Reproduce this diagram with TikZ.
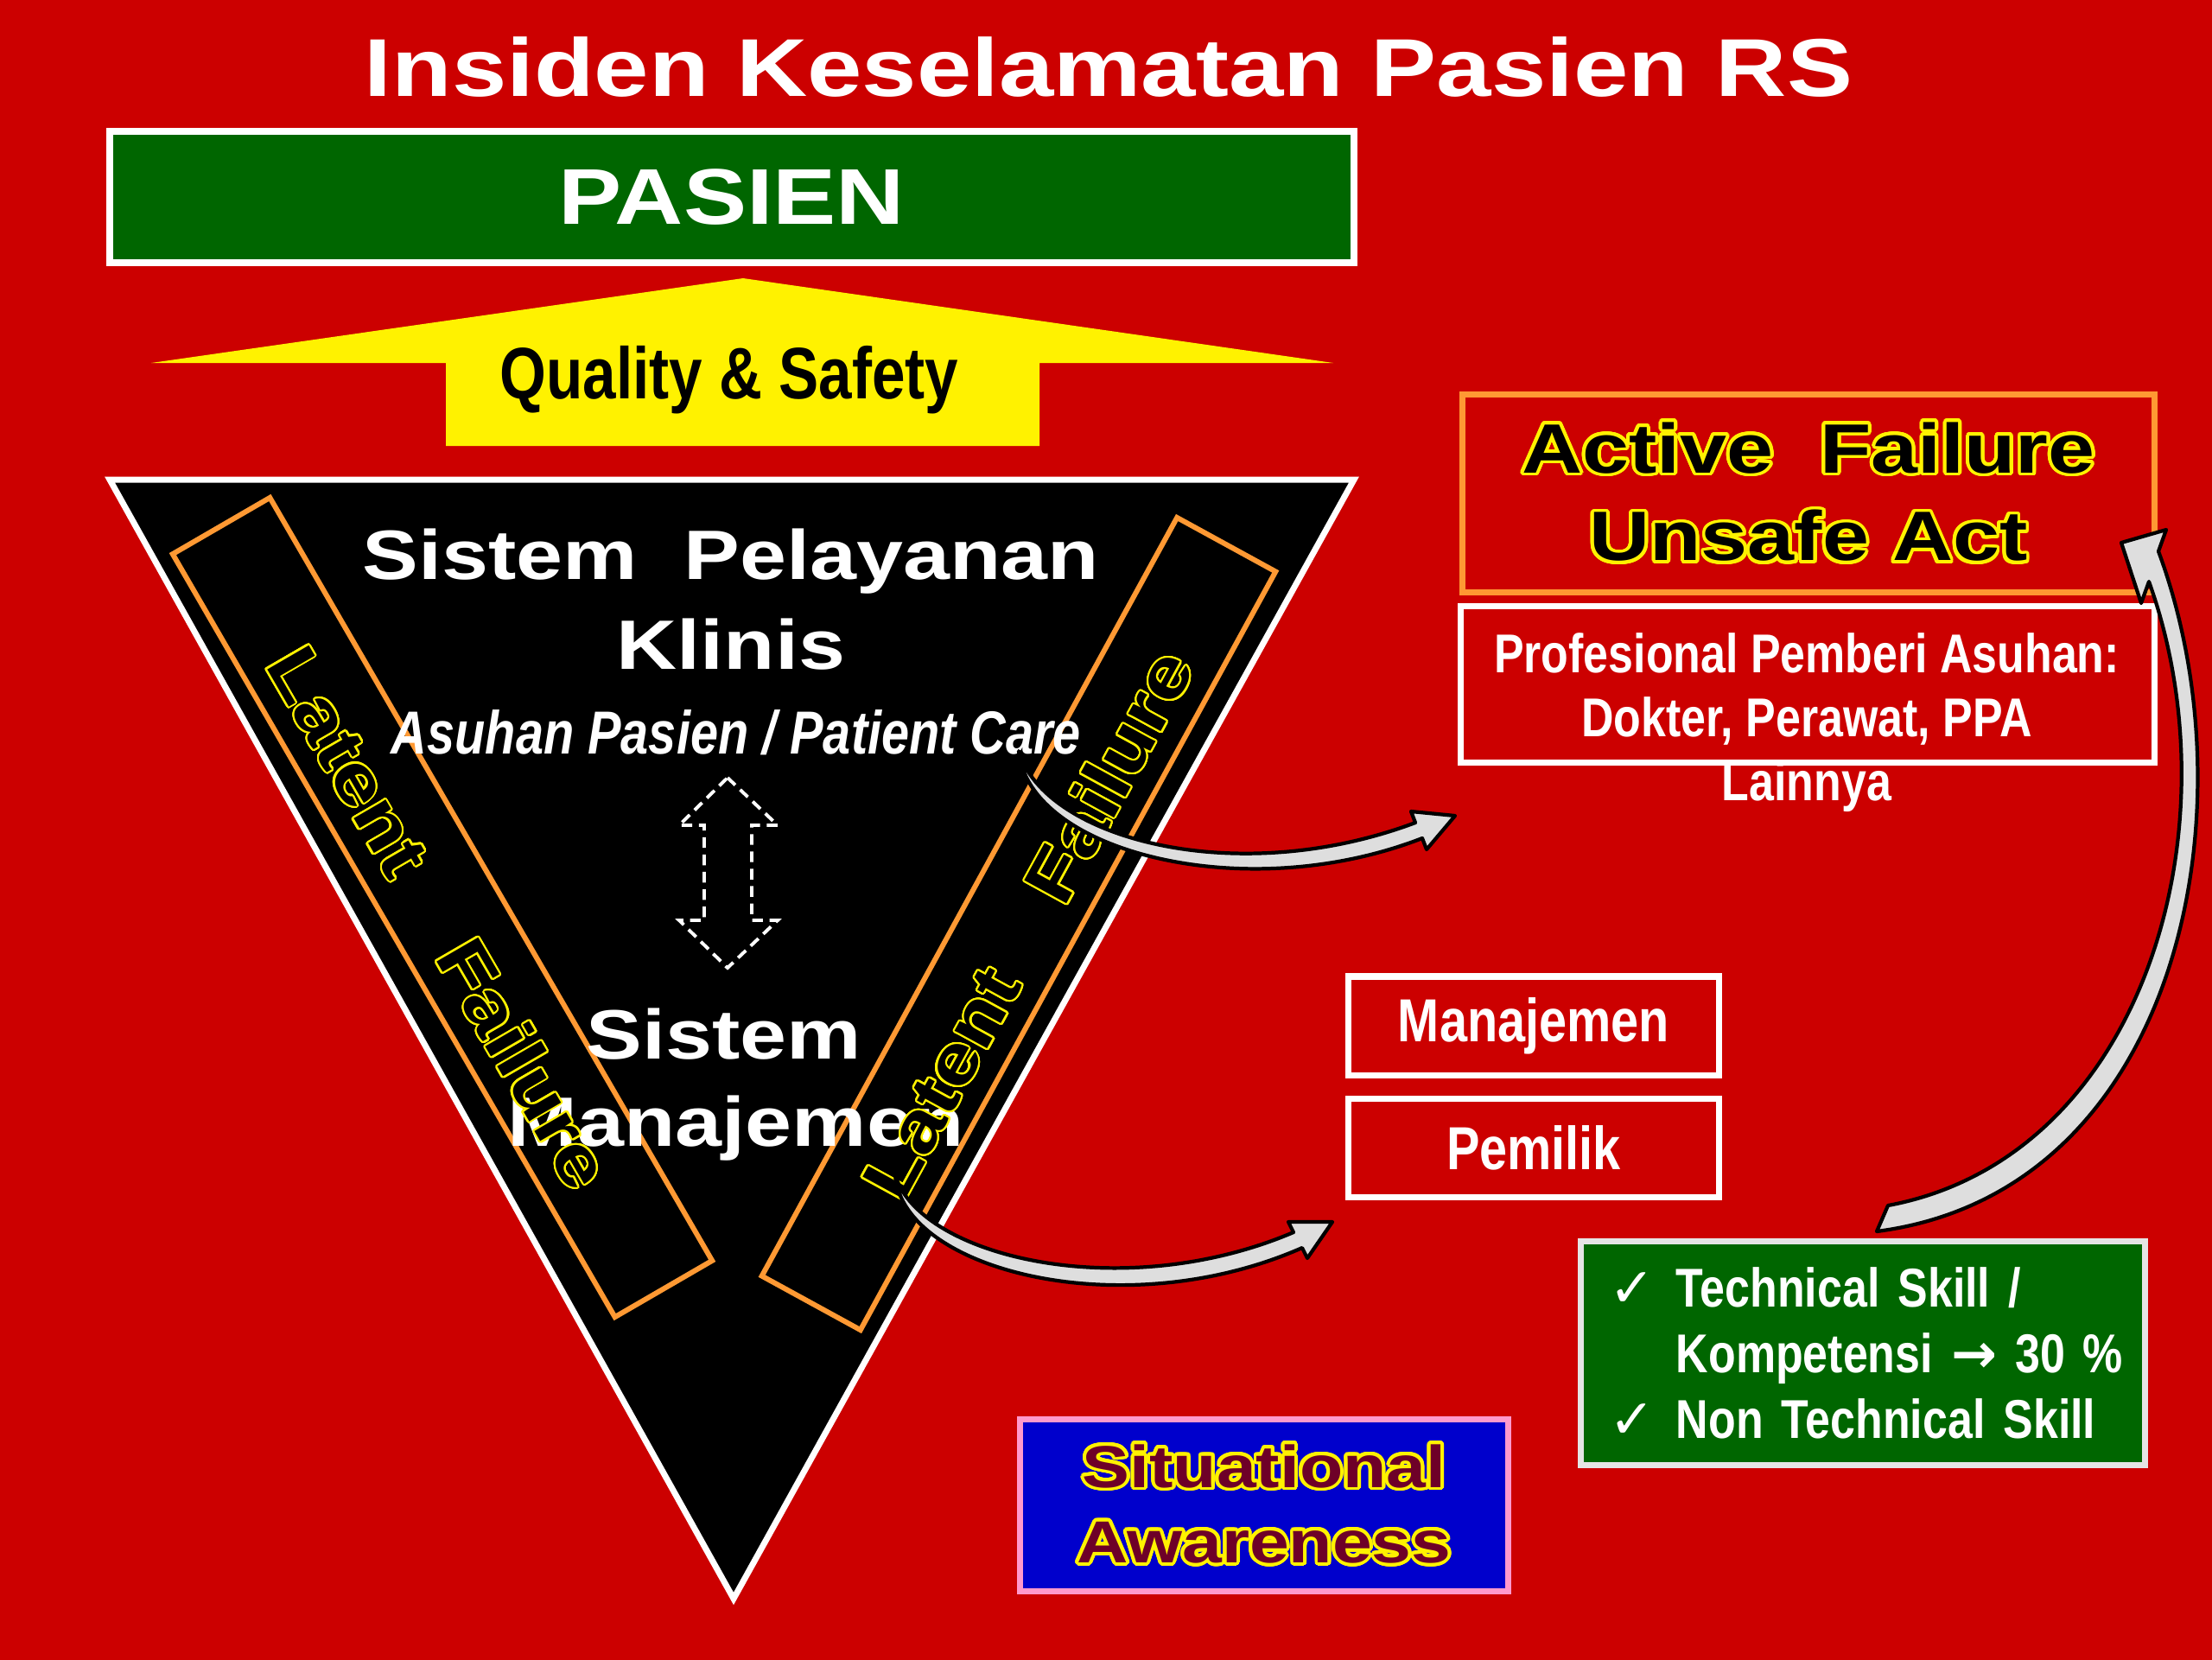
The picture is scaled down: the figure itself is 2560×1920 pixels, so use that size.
\documentclass[tikz,border=0pt]{standalone}
\usepackage{fontspec}
\setmainfont{Liberation Sans}
\newfontfamily\widefont[FakeStretch=1.2]{Liberation Sans}
\newfontfamily\narrowfont[FakeStretch=0.82]{Liberation Sans}
\newfontfamily\symfont{DejaVu Sans}
\usepackage[copies]{contour}
\usepackage{tikz}
\usetikzlibrary{arrows}
\usetikzlibrary{positioning}
\contourlength{1.1pt}
\contournumber{32}

\definecolor{bgred}{RGB}{204,0,0}
\definecolor{pasgreen}{RGB}{0,102,0}
\definecolor{barorange}{RGB}{255,153,51}
\definecolor{situblue}{RGB}{0,0,204}
\definecolor{situpink}{RGB}{255,153,204}
\definecolor{situmaroon}{RGB}{110,0,40}
\definecolor{arrowgray}{RGB}{222,222,222}

\begin{document}
\begin{tikzpicture}[x=0.01cm,y=0.01cm,
	hdr/.style={text=white,font=\widefont\bfseries\fontsize{23}{27}\selectfont},
	narrowtxt/.style={text=white,font=\narrowfont\bfseries\fontsize{18}{21}\selectfont},
	redbox/.style={draw=white,line width=2pt,fill=bgred},
	bar/.style={draw=barorange,line width=1.7pt,fill=black,minimum height=1.3cm},
	bartxt/.style={text=black,font=\widefont\bfseries\fontsize{23}{27}\selectfont},
	garrow/.style={fill=arrowgray,draw=black,line width=1.2pt,line join=round}]
			\useasboundingbox (0,0) rectangle (2560,-1920);
			\fill[bgred] (-20,20) rectangle (2580,-1940);
			
			% title and pasien
			
			\node[text=white,font=\widefont\bfseries\fontsize{27}{32}\selectfont] (title) at (1283,-78) {Insiden Keselamatan Pasien RS};
			\node[draw=white,line width=2.3pt,fill=pasgreen,minimum width=14.4cm,minimum height=1.52cm,text=white,font=\widefont\bfseries\fontsize{26}{30}\selectfont] (pasien) at (847,-228) {PASIEN};
			
			\fill[yellow] (175,-420) -- (860,-322) -- (1543,-420) -- (1203,-420) -- (1203,-516) -- (516,-516) -- (516,-420) -- cycle;
			\node[font=\narrowfont\bfseries\fontsize{24}{28}\selectfont] (quality) at (844,-440) {Quality \& Safety};
			
			% triangle
			
			\filldraw[fill=black,draw=white,line width=2pt] (127,-555) -- (1567,-555) -- (849,-1850) -- cycle;
			\node[bar,minimum width=10.2cm,rotate=-59.9] (lbar) at (512,-1050) {};
			\node[bar,minimum width=10cm,rotate=61.3] (rbar) at (1179,-1069) {};
			
			\node[hdr] (pelayanan) at (846,-650) {Sistem~~Pelayanan};
			\node[hdr] (klinis) at (846,-746) {Klinis};
			\draw[white,line width=1.1pt,dash pattern=on 3.5pt off 2.2pt] (842,-900) -- (900,-955) -- (870,-955) -- (870,-1065) -- (900,-1065) -- (842,-1120) -- (786,-1065) -- (815,-1065) -- (815,-955) -- (786,-955) -- cycle;
			\node[hdr] (sistem) at (838,-1197) {Sistem};
			\node[hdr] (mansys) at (852,-1306) {Manajemen};
			
			\node[bartxt,rotate=-59.9] (llatent) at (508,-1062) {\contourlength{0.6pt}\contour{yellow}{Latent\hspace{1cm}Failure}};
			\node[bartxt,rotate=61.3] (rlatent) at (1190,-1070) {\contourlength{0.6pt}\contour{yellow}{Latent\hspace{1cm}Failure}};
			\node[text=white,font=\narrowfont\bfseries\itshape\fontsize{20}{24}\selectfont] (asuhan) at (852,-848) {Asuhan Pasien / Patient Care};
			
			% right side
			
			\node[draw=barorange,line width=2pt,fill=bgred,minimum width=8cm,minimum height=2.29cm,align=center,font=\widefont\bfseries\fontsize{23}{29}\selectfont] (active) at (2093,-571) {\contour{yellow}{Active~~Failure}\\\contour{yellow}{Unsafe Act}};
			\node[redbox,minimum width=8.02cm,minimum height=1.8cm] (prof) at (2092,-792) {};
			\node[narrowtxt,align=center] (proftxt) at (2091,-836) {Profesional Pemberi Asuhan:\\Dokter, Perawat, PPA\\Lainnya};
			
			\node[redbox,narrowtxt,font=\narrowfont\bfseries\fontsize{20}{24}\selectfont,minimum width=4.28cm,minimum height=1.14cm] (manaj) at (1775,-1187) {Manajemen};
			\node[redbox,narrowtxt,font=\narrowfont\bfseries\fontsize{20}{24}\selectfont,minimum width=4.28cm,minimum height=1.14cm,below=0.2cm of manaj] (pemilik) {Pemilik};
			
			\node[draw=black!10,line width=2pt,fill=pasgreen,text=white,font=\narrowfont\bfseries\fontsize{18}{21.6}\selectfont,align=left,text width=5.86cm,inner xsep=0.33cm,minimum height=2.58cm] (skill) at (2156,-1566) {\makebox[0.77cm][l]{\symfont\mdseries ✓}Technical Skill /\\\hspace*{0.77cm}\mbox{Kompetensi~{\symfont →}~30~\%}\\\makebox[0.77cm][l]{\symfont\mdseries ✓}Non Technical Skill};
			
			\node[draw=situpink,line width=2pt,fill=situblue,minimum width=5.64cm,minimum height=1.99cm,align=center,text=situmaroon,font=\widefont\bfseries\fontsize{19.5}{24.8}\selectfont] (situ) at (1463,-1742) {\contour{yellow}{Situational}\\\contour{yellow}{Awareness}};
			
			% curved arrows
			
			\coordinate (a1s) at (1179,-869);
			\coordinate (a1t) at (1684,-944);
			\filldraw[garrow] (a1s) .. controls (1190,-985) and (1440,-1050) .. (1646,-970) -- (1651,-983) -- (a1t) -- (1633,-939) -- (1638,-952) .. controls (1430,-1030) and (1208,-970) .. (a1s) -- cycle;
			
			\coordinate (a2s) at (1036,-1360);
			\coordinate (a2t) at (1542,-1414);
			\filldraw[garrow] (a2s) .. controls (1045,-1470) and (1300,-1535) .. (1507,-1444) -- (1513,-1456) -- (a2t) -- (1491,-1414) -- (1497,-1426) .. controls (1300,-1510) and (1065,-1455) .. (a2s) -- cycle;
			
			\coordinate (a3s) at (2172,-1425);
			\coordinate (a3t) at (2455,-628);
			\filldraw[garrow] (a3s) .. controls (2520,-1380) and (2610,-940) .. (2498,-638) -- (2507,-613) -- (a3t) -- (2478,-698) -- (2487,-673) .. controls (2590,-960) and (2480,-1340) .. (2185,-1395) -- cycle;
		\end{tikzpicture}
\end{document}
